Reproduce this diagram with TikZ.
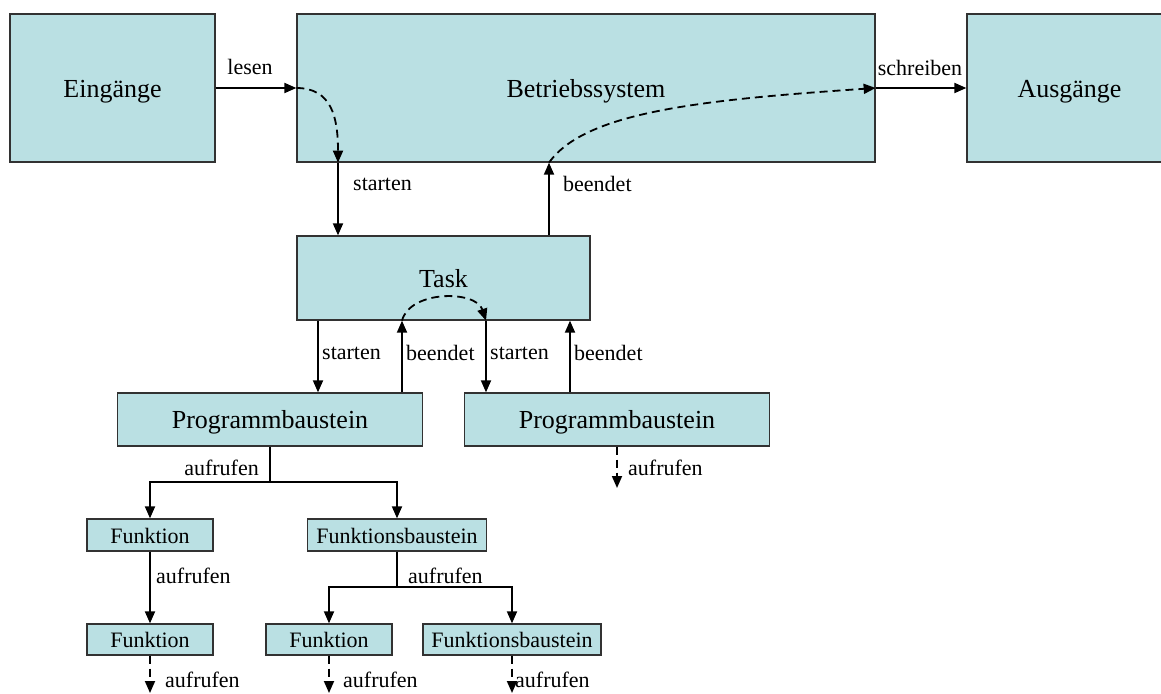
\documentclass[tikz,border=0pt]{standalone}
\usepackage{fontspec}
\setmainfont{Liberation Serif}[Ligatures=TeX]
\newfontfamily\diagfont{Liberation Serif}
\usetikzlibrary{arrows.meta}
\definecolor{boxfill}{RGB}{186,224,227}
\definecolor{boxline}{RGB}{50,50,50}

\begin{document}
\begin{tikzpicture}[x=1pt,y=-1pt,
  box/.style={draw=boxline, line width=1.3pt, fill=boxfill, inner sep=0pt,
    text height=18pt, text depth=0pt,
    font=\diagfont\fontsize{26}{30}\selectfont},
  smallbox/.style={box, text height=16pt, text depth=0pt,
    font=\diagfont\fontsize{22}{26}\selectfont},
  arr/.style={-{Triangle[length=12pt,width=10pt]}, line width=1.8pt},
  darr/.style={arr, dash pattern=on 8pt off 5pt},
  stem/.style={draw, line width=1.8pt},
  lbl/.style={font=\diagfont\fontsize{22}{26}\selectfont, inner sep=0pt},
]
\clip (0,0) rectangle (1161,693);
\fill[white] (0,0) rectangle (1161,693);

% boxes
\node[box, minimum width=205pt, minimum height=148pt] (ein) at (112.5,88) {Eingänge};
\node[box, minimum width=578pt, minimum height=148pt] (bs) at (586,88) {Betriebssystem};
\node[box, minimum width=205pt, minimum height=148pt] (aus) at (1069.5,88) {Ausgänge};
\node[box, minimum width=293pt, minimum height=84pt] (task) at (443.5,278) {Task};
\node[box, minimum width=305pt, minimum height=53pt] (pbA) at (270,419.5) {Programmbaustein};
\node[box, minimum width=305pt, minimum height=53pt] (pbB) at (617,419.5) {Programmbaustein};
\node[smallbox, minimum width=126pt, minimum height=32pt] (fnA) at (150,535) {Funktion};
\node[smallbox, minimum width=179pt, minimum height=32pt] (fbA) at (397,535) {Funktionsbaustein};
\node[smallbox, minimum width=126pt, minimum height=31pt] (fnB) at (150,639.5) {Funktion};
\node[smallbox, minimum width=126pt, minimum height=31pt] (fnC) at (329,639.5) {Funktion};
\node[smallbox, minimum width=178pt, minimum height=31pt] (fbB) at (512,639.5) {Funktionsbaustein};

% operating system level
\coordinate (tA) at (338,0 |- bs.south);
\coordinate (tB) at (549,0 |- bs.south);
\draw[arr] (ein.east) -- (bs.west);
\node[lbl] at (250,67) {lesen};
\draw[darr] (bs.west) .. controls (332,88) and (338,118) .. (tA);
\draw[arr] (tA) -- (tA |- task.north);
\node[lbl, anchor=west] at (353,184) {starten};
\draw[arr] (tB |- task.north) -- (tB);
\node[lbl, anchor=west] at (563,184) {beendet};
\draw[darr] (tB) .. controls (585,112) and (700,100) .. (bs.east);
\draw[arr] (bs.east) -- (aus.west);
\node[lbl] at (920,68) {schreiben};

% task level
\coordinate (kA) at (318,0 |- task.south);
\coordinate (kB) at (402,0 |- task.south);
\coordinate (kC) at (486,0 |- task.south);
\coordinate (kD) at (570,0 |- task.south);
\draw[arr] (kA) -- (kA |- pbA.north);
\draw[arr] (kB |- pbA.north) -- (kB);
\draw[darr] (kB) .. controls (410,290) and (476,290) .. (kC);
\draw[arr] (kC) -- (kC |- pbB.north);
\draw[arr] (kD |- pbB.north) -- (kD);
\node[lbl, anchor=west] at (322,353) {starten};
\node[lbl, anchor=west] at (406,353) {beendet};
\node[lbl, anchor=west] at (490,353) {starten};
\node[lbl, anchor=west] at (574,353) {beendet};

% program blocks
\coordinate (jA) at (pbA.south |- 0,482);
\path[stem] (pbA.south) -- (jA);
\draw[arr] (jA) -| (fnA.north);
\draw[arr] (jA) -| (fbA.north);
\node[lbl, anchor=east] at (259,468) {aufrufen};
\coordinate (eB) at (pbB.south |- 0,488);
\draw[darr] (pbB.south) -- (eB);
\node[lbl, anchor=west] at (628,468) {aufrufen};

% functions and function blocks
\draw[arr] (fnA.south) -- (fnB.north);
\node[lbl, anchor=west] at (156,576) {aufrufen};
\coordinate (jB) at (fbA.south |- 0,587);
\path[stem] (fbA.south) -- (jB);
\draw[arr] (jB) -| (fnC.north);
\draw[arr] (jB) -| (fbB.north);
\node[lbl, anchor=west] at (408,576) {aufrufen};

\coordinate (eF) at (fnB.south |- 0,693);
\coordinate (eG) at (fnC.south |- 0,693);
\coordinate (eH) at (fbB.south |- 0,693);
\draw[darr] (fnB.south) -- (eF);
\draw[darr] (fnC.south) -- (eG);
\draw[darr] (fbB.south) -- (eH);
\node[lbl, anchor=west] at (165,680) {aufrufen};
\node[lbl, anchor=west] at (343,680) {aufrufen};
\node[lbl, anchor=west] at (515,680) {aufrufen};
\end{tikzpicture}
\end{document}
